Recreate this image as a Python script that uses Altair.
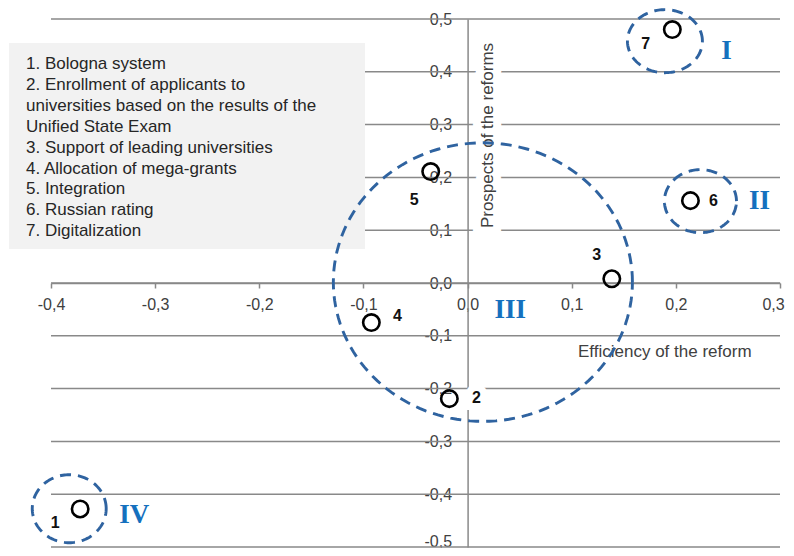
import altair as alt
import numpy as np
import pandas as pd

# ---------------- data ----------------
reform_ids = [1, 2, 3, 4, 5, 6, 7]
efficiency = [-0.372, -0.0175, 0.1385, -0.0924, -0.0354, 0.214, 0.1966]
prospects = [-0.428, -0.219, 0.008, -0.075, 0.211, 0.156, 0.480]

legend_lines = [
    "1. Bologna system",
    "2. Enrollment of applicants to",
    "universities based on the results of the",
    "Unified State Exam",
    "3. Support of leading universities",
    "4. Allocation of mega-grants",
    "5. Integration",
    "6. Russian rating",
    "7. Digitalization",
]

x_ticks = [-0.4, -0.3, -0.2, -0.1, 0.0, 0.1, 0.2, 0.3]
y_ticks = [-0.5, -0.4, -0.3, -0.2, -0.1, 0.0, 0.1, 0.2, 0.3, 0.4, 0.5]

group_names = ["I", "II", "III", "IV"]
group_cx = [0.1895, 0.2236, 0.0147, -0.3825]
group_cy = [0.458, 0.155, 0.0017, -0.4275]
group_rx = [0.036, 0.0346, 0.1436, 0.0355]
group_ry = [0.0597, 0.0597, 0.2638, 0.0644]
group_label_x = [0.2486, 0.2803, 0.0411, -0.32]
group_label_y = [0.44, 0.1545, -0.0506, -0.4388]

# label offsets in pixels (style)
label_dx = [-25, 27, -15, 26, -16.5, 23, -26.5]
label_dy = [14, -1, -24, -7, 28, 0, 14]

# ---------------- tables ----------------
pts = pd.DataFrame({"id": reform_ids, "eff": efficiency, "pro": prospects})
grid_df = pd.DataFrame({"v": y_ticks})
roman_df = pd.DataFrame({"name": group_names, "x": group_label_x, "y": group_label_y})

rows = []
for n, cx, cy, rx, ry in zip(group_names, group_cx, group_cy, group_rx, group_ry):
    for k, t in enumerate(np.linspace(0, 2 * np.pi, 145)):
        rows.append({"group": n, "k": k, "x": cx + rx * np.cos(t), "y": cy + ry * np.sin(t)})
ell_df = pd.DataFrame(rows)
one = pd.DataFrame({"a": [0]})

W, H = 729, 528
FONT = "Liberation Sans"
GRID = "#898989"
LBL = "#404040"
label_expr = "(datum.value < -0.00001 ? '-' : '') + replace(format(abs(datum.value), '.1f'), '.', ',')"

x_scale = alt.Scale(domain=[-0.4, 0.3], nice=False, zero=False)
y_scale = alt.Scale(domain=[-0.5, 0.5], nice=False, zero=False)

x_axis = alt.Axis(values=x_ticks, labelExpr=label_expr, offset=-264, title=None, grid=False,
                  domainColor=GRID, domainWidth=1.5, tickColor=GRID, tickWidth=1.5, tickSize=5,
                  labelPadding=8, labelFont=FONT, labelFontSize=16, labelColor=LBL,
                  labelOverlap=False, labelFlush=False,
                  labelOffset={"condition": {"test": "datum.value >= 0.29", "value": -7}, "value": 0})
y_axis = alt.Axis(values=y_ticks, labelExpr=label_expr, offset=-416.6, title=None, grid=False,
                  domainColor=GRID, domainWidth=1.5, ticks=False, tickSize=0,
                  labelPadding=16, labelFont=FONT, labelFontSize=16, labelColor=LBL,
                  labelOverlap=False, labelFlush=False,
                  labelOffset={"condition": {"test": "datum.value <= -0.49", "value": -6}, "value": 0})


def X(field):
    return alt.X(field, type="quantitative", scale=x_scale, axis=x_axis)


def Y(field):
    return alt.Y(field, type="quantitative", scale=y_scale, axis=y_axis)


grid = alt.Chart(grid_df).mark_rule(color=GRID, strokeWidth=1.5).encode(
    y=Y("v"), x=alt.value(0), x2=alt.value(W)
)

legend_box = alt.Chart(one).mark_rect(color="#f2f2f2").encode(
    x=alt.value(-42), x2=alt.value(314), y=alt.value(24), y2=alt.value(230)
)
legend_text = alt.Chart(one).mark_text(
    text=legend_lines, lineHeight=20.9, align="left", baseline="alphabetic",
    font=FONT, fontSize=17, color="#262626"
).encode(x=alt.value(-25), y=alt.value(50))

ytitle_halo = alt.Chart(one).mark_text(
    text="Prospects of the reforms", angle=270, align="center", baseline="middle",
    font=FONT, fontSize=17, color="white", stroke="white", strokeWidth=16
).encode(x=alt.value(437), y=alt.value(116.5))
ytitle = alt.Chart(one).mark_text(
    text="Prospects of the reforms", angle=270, align="center", baseline="middle",
    font=FONT, fontSize=17, color=LBL
).encode(x=alt.value(437), y=alt.value(116.5))

xtitle = alt.Chart(one).mark_text(
    text="Efficiency of the reform", align="left", baseline="alphabetic",
    font=FONT, fontSize=17, color=LBL
).encode(x=alt.value(527), y=alt.value(337.7))

ellipses = alt.Chart(ell_df).mark_line(
    strokeDash=[11, 7], strokeWidth=2.9, color="#2f63a0"
).encode(x=X("x"), y=Y("y"), detail="group:N", order="k:Q")

points = alt.Chart(pts).mark_point(
    shape="circle", filled=False, size=270, strokeWidth=2.6, color="black", opacity=1
).encode(x=X("eff"), y=Y("pro"))

label_layers = []
for rid, dx, dy in zip(reform_ids, label_dx, label_dy):
    base = alt.Chart(pts).transform_filter(alt.datum.id == rid)
    label_layers.append(base.mark_text(
        dx=dx, dy=dy, align="center", baseline="middle", font=FONT, fontSize=16,
        fontWeight="bold", color="white", stroke="white", strokeWidth=14
    ).encode(x=X("eff"), y=Y("pro"), text=alt.Text("id:N")))
for rid, dx, dy in zip(reform_ids, label_dx, label_dy):
    base = alt.Chart(pts).transform_filter(alt.datum.id == rid)
    label_layers.append(base.mark_text(
        dx=dx, dy=dy, align="center", baseline="middle", font=FONT, fontSize=16,
        fontWeight="bold", color="#111111"
    ).encode(x=X("eff"), y=Y("pro"), text=alt.Text("id:N")))

roman = alt.Chart(roman_df).mark_text(
    font="Liberation Serif", fontWeight="bold", fontSize=27, color="#1570be",
    align="center", baseline="middle"
).encode(x=X("x"), y=Y("y"), text="name:N")

chart = alt.layer(
    grid, legend_box, legend_text, ytitle_halo, ytitle, xtitle,
    ellipses, points, *label_layers, roman
).properties(
    width=W, height=H,
    autosize=alt.AutoSizeParams(type="none"),
    padding={"left": 43, "top": 11, "right": 6, "bottom": 1},
    background="white",
).configure_view(stroke=None)

chart.save("out.html", embed_options={"renderer": "svg", "actions": False})
